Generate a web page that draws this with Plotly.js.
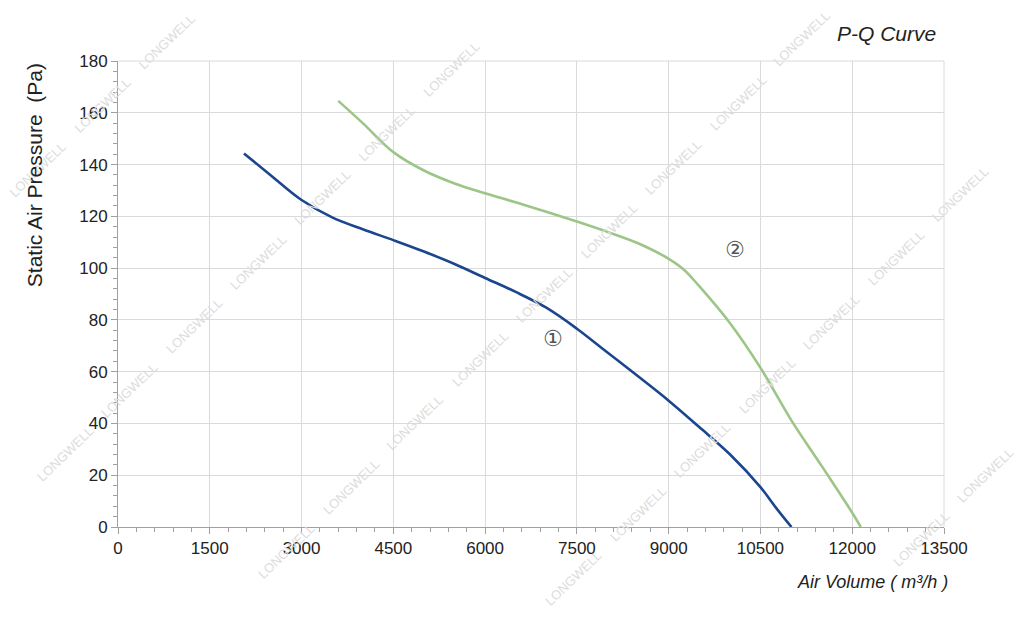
<!DOCTYPE html>
<html>
<head>
<meta charset="utf-8">
<script src="https://cdn.plot.ly/plotly-3.0.1.min.js"></script>
<style>html,body{margin:0;padding:0;background:#fff;}#chart{width:1024px;height:617px;}</style>
</head>
<body>
<div id="chart"></div>
<script>
// Curve ① (blue)
const curve1Q = [2059, 2500, 3000, 3500, 4000, 4500, 5000, 5500, 6000, 6500, 7000, 7500, 8000, 8500, 9000, 9500, 10000, 10500, 10762, 11007];
const curve1P = [144.3, 135.8, 126.3, 119.6, 115, 110.8, 106.4, 101.6, 96.2, 90.8, 84.7, 76.6, 67.4, 58.2, 48.8, 38.6, 28.1, 15.4, 7.2, 0];
// Curve ② (green)
const curve2Q = [3600, 4000, 4500, 5000, 5500, 6000, 6500, 7000, 7500, 8000, 8500, 9000, 9250, 9500, 10000, 10500, 11000, 11500, 12000, 12140];
const curve2P = [164.6, 156, 144.8, 137.7, 132.7, 128.9, 125.4, 121.8, 118, 114, 109.6, 103.6, 99.4, 93, 78.8, 61.5, 41.4, 23.6, 5.5, 0];
const curveLabels = ['①', '②'];
const labelQ = [7108, 10082];
const labelP = [73, 107.3];
const xTicks = [0, 1500, 3000, 4500, 6000, 7500, 9000, 10500, 12000, 13500];
const yTicks = [0, 20, 40, 60, 80, 100, 120, 140, 160, 180];
const watermarkText = 'LONGWELL';

const font = 'Liberation Sans, Arial, sans-serif';
const traces = [
  {x: curve1Q, y: curve1P, mode: 'lines', line: {color: '#1b468e', width: 2.6, shape: 'spline', smoothing: 1}, hoverinfo: 'skip'},
  {x: curve2Q, y: curve2P, mode: 'lines', line: {color: '#9cc687', width: 2.6, shape: 'spline', smoothing: 1}, hoverinfo: 'skip'}
];

// plot area in pixels (for decorative watermark placement)
const PL = 118, PR = 944, PT = 61, PB = 527;
const annotations = [];
// faint diagonal watermark pattern
const wmLines = [[167, 42], [258, 262], [415, 423], [573, 578], [985, 475]];
wmLines.forEach(([ax, ay]) => {
  for (let k = -10; k <= 10; k++) {
    const px = ax + 64.5 * k, py = ay - 64 * k;
    if (px < 28 || px > 996 || py < 28 || py > 589) continue;
    annotations.push({
      xref: 'paper', yref: 'paper', x: (px - PL) / (PR - PL), y: (PB - py) / (PB - PT),
      xanchor: 'center', yanchor: 'middle', text: watermarkText, showarrow: false, textangle: -44,
      font: {family: font, size: 13, color: '#dcdcdc'}
    });
  }
});
curveLabels.forEach((t, i) => annotations.push({
  x: labelQ[i], y: labelP[i], xref: 'x', yref: 'y', text: t, showarrow: false,
  font: {family: 'DejaVu Sans, sans-serif', size: 22, color: '#555'}
}));
annotations.push({xref: 'paper', yref: 'paper', x: 1, xshift: -6, y: 1, yshift: 28, xanchor: 'right', yanchor: 'middle', text: '<i>P-Q Curve</i>', showarrow: false, font: {family: font, size: 21, color: '#222'}});
annotations.push({xref: 'paper', yref: 'paper', x: 1, xshift: 6, y: 0, yshift: -55, xanchor: 'right', yanchor: 'middle', text: '<i>Air Volume ( m³/h )</i>', showarrow: false, font: {family: font, size: 18, color: '#222'}});
annotations.push({xref: 'paper', yref: 'paper', x: 0, xshift: -84, y: 0.755, xanchor: 'center', yanchor: 'middle', textangle: -90, text: 'Static Air Pressure  (Pa)', showarrow: false, font: {family: font, size: 21, color: '#222'}});

const layout = {
  width: 1024, height: 617,
  margin: {l: PL, r: 1024 - PR, t: PT, b: 617 - PB},
  paper_bgcolor: '#fff', plot_bgcolor: '#fff',
  showlegend: false,
  xaxis: {
    range: [0, 13500], tickvals: xTicks, ticktext: xTicks.map(String),
    showgrid: true, gridcolor: '#dadada', gridwidth: 1,
    showline: true, linecolor: '#a0a0a0', linewidth: 1,
    ticks: 'outside', ticklen: 6, tickcolor: '#a0a0a0',
    tickfont: {family: font, size: 17, color: '#222'},
    zeroline: false,
    minor: {dtick: 300, ticks: 'outside', ticklen: 4, tickcolor: '#a0a0a0', showgrid: false}
  },
  yaxis: {
    range: [0, 180], tickvals: yTicks, ticktext: yTicks.map(String),
    showgrid: true, gridcolor: '#dadada', gridwidth: 1,
    showline: true, linecolor: '#a0a0a0', linewidth: 1,
    ticks: 'outside', ticklen: 6, tickcolor: '#a0a0a0',
    tickfont: {family: font, size: 17, color: '#222'},
    zeroline: false,
    minor: {dtick: 4, ticks: 'outside', ticklen: 4, tickcolor: '#a0a0a0', showgrid: false}
  },
  shapes: [
    {type: 'line', xref: 'paper', yref: 'paper', x0: 0, x1: 1, y0: 1, y1: 1, line: {color: '#dadada', width: 1}},
    {type: 'line', xref: 'paper', yref: 'paper', x0: 1, x1: 1, y0: 0, y1: 1, line: {color: '#dadada', width: 1}}
  ],
  annotations: annotations
};
Plotly.newPlot('chart', traces, layout, {staticPlot: true, displayModeBar: false});
</script>
</body>
</html>
